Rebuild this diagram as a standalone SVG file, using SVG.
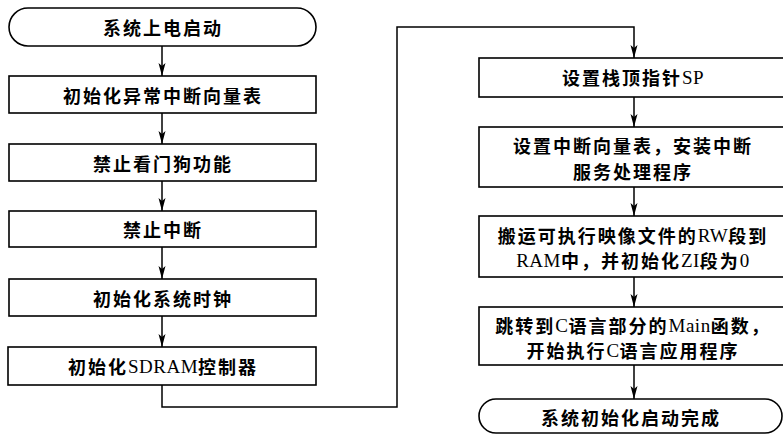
<svg xmlns="http://www.w3.org/2000/svg" width="783" height="435" viewBox="0 0 783 435">
<style>
.box{fill:#fff;stroke:#000;stroke-width:1.6}
.con{fill:none;stroke:#000;stroke-width:1.5}
text{font-family:"Noto Sans CJK SC","Liberation Serif",sans-serif;font-size:18px;font-weight:bold;letter-spacing:2px;text-anchor:middle;dominant-baseline:central;fill:#000}
.lat{font-family:"Liberation Serif",serif;font-weight:normal;font-size:19px;letter-spacing:0.5px}
</style>
<defs>
<marker id="arr" markerUnits="userSpaceOnUse" markerWidth="14" markerHeight="10" refX="13" refY="5" orient="auto">
<path d="M0,1.5 L13,5 L0,8.5 L3,5 z" fill="#000"/>
</marker>
</defs>
<rect width="783" height="435" fill="#fff"/>
<g id="connectors">
<line class="con" x1="162" y1="46" x2="162" y2="76" marker-end="url(#arr)"/>
<line class="con" x1="162" y1="113" x2="162" y2="144" marker-end="url(#arr)"/>
<line class="con" x1="162" y1="181" x2="162" y2="211" marker-end="url(#arr)"/>
<line class="con" x1="162" y1="247" x2="162" y2="279" marker-end="url(#arr)"/>
<line class="con" x1="162" y1="316" x2="162" y2="347" marker-end="url(#arr)"/>
<polyline class="con" points="162,385 162,407 397,407 397,27 634,27 634,58" marker-end="url(#arr)"/>
<line class="con" x1="634" y1="97" x2="634" y2="127" marker-end="url(#arr)"/>
<line class="con" x1="634" y1="187" x2="634" y2="216" marker-end="url(#arr)"/>
<line class="con" x1="634" y1="277" x2="634" y2="307" marker-end="url(#arr)"/>
<line class="con" x1="634" y1="365" x2="634" y2="399" marker-end="url(#arr)"/>
</g>
<g id="start"><rect class="box" x="9" y="8" width="307" height="38" rx="19"/><text x="163" y="27">系统上电启动</text></g>
<g id="n1"><rect class="box" x="9" y="76" width="307" height="37"/><text x="163" y="95">初始化异常中断向量表</text></g>
<g id="n2"><rect class="box" x="9" y="144" width="307" height="37"/><text x="163" y="163">禁止看门狗功能</text></g>
<g id="n3"><rect class="box" x="9" y="211" width="307" height="36"/><text x="163" y="229">禁止中断</text></g>
<g id="n4"><rect class="box" x="9" y="279" width="307" height="37"/><text x="163" y="298">初始化系统时钟</text></g>
<g id="n5"><rect class="box" x="8" y="347" width="308" height="38"/><text x="163" y="366">初始化<tspan class="lat">SDRAM</tspan>控制器</text></g>
<g id="r1"><rect class="box" x="479" y="58" width="306" height="39"/><text x="633" y="77">设置栈顶指针<tspan class="lat">SP</tspan></text></g>
<g id="r2"><rect class="box" x="479" y="127" width="306" height="60"/><text x="633" y="145">设置中断向量表，安装中断</text><text x="633" y="171">服务处理程序</text></g>
<g id="r3"><rect class="box" x="479" y="216" width="306" height="61"/><text x="633" y="235">搬运可执行映像文件的<tspan class="lat">RW</tspan>段到</text><text x="633" y="260"><tspan class="lat">RAM</tspan>中，并初始化<tspan class="lat">ZI</tspan>段为<tspan class="lat">0</tspan></text></g>
<g id="r4"><rect class="box" x="479" y="307" width="306" height="58"/><text x="633" y="325">跳转到<tspan class="lat">C</tspan>语言部分的<tspan class="lat">Main</tspan>函数，</text><text x="633" y="350">开始执行<tspan class="lat">C</tspan>语言应用程序</text></g>
<g id="end"><rect class="box" x="479" y="399" width="303" height="34" rx="17"/><text x="631" y="417">系统初始化启动完成</text></g>
</svg>
